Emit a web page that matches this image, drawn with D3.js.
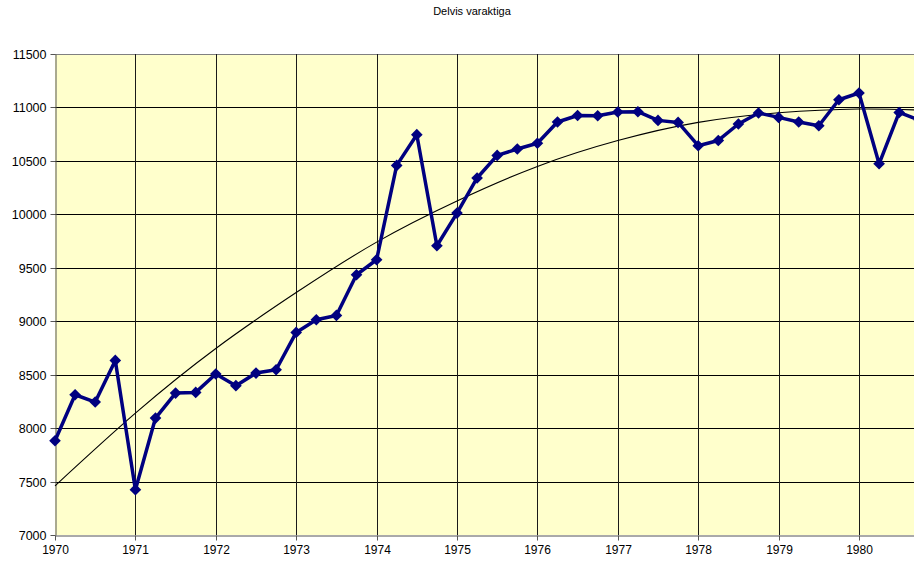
<!DOCTYPE html>
<html>
<head>
<meta charset="utf-8">
<script src="https://cdn.jsdelivr.net/npm/d3@7"></script>
<style>
  body { margin: 0; background: #fff; }
  svg { display: block; }
</style>
</head>
<body>
<div id="chart"></div>
<script>
"use strict";

// Quarterly series, 1970 Q1 .. 1980 Q4
const quarters = d3.range(44).map(i => 1970 + i / 4);
const values = [
  7882, 8312, 8244, 8633,
  7424, 8094, 8328, 8334,
  8506, 8397, 8515, 8546,
  8895, 9014, 9054, 9435,
  9575, 10458, 10745, 9706,
  10012, 10340, 10551, 10611,
  10665, 10864, 10925, 10922,
  10957, 10960, 10879, 10860,
  10642, 10691, 10845, 10948,
  10907, 10864, 10829, 11072,
  11135, 10473, 10953, 10880
];

// Trend line
const trendYears = [1970, 1971, 1972, 1973, 1974, 1975, 1976, 1977, 1978, 1979, 1980, 1980.75];
const trendValues = [7460, 8140, 8745, 9268, 9740, 10125, 10448, 10690, 10860, 10950, 10985, 10975];

const yTicks = [7000, 7500, 8000, 8500, 9000, 9500, 10000, 10500, 11000, 11500];
const xTicks = [1970, 1971, 1972, 1973, 1974, 1975, 1976, 1977, 1978, 1979, 1980];

const title = "Delvis varaktiga";

function create(container) {
  container.innerHTML = "";

  const width = 914, height = 563;
  const left = 55, top = 54, bottom = 535;
  const right = left + 11 * 80.4;

  let svg = d3.select(container).append("svg")
    .attr("width", width)
    .attr("height", height);

  let x = d3.scaleLinear().domain([1970, 1981]).range([left, right]);
  let y = d3.scaleLinear().domain([7000, 11500]).range([bottom, top]);
  const crisp = v => Math.round(v) + 0.5;

  // Title
  svg.append("text")
    .attr("x", 472)
    .attr("y", 15)
    .attr("text-anchor", "middle")
    .attr("font-family", "Liberation Sans, Arial, sans-serif")
    .attr("font-size", "11px")
    .attr("fill", "#000")
    .text(title);

  // Plot background
  svg.append("rect")
    .attr("x", left)
    .attr("y", top)
    .attr("width", right - left)
    .attr("height", bottom - top)
    .attr("fill", "#ffffcc");

  // Horizontal grid
  svg.append("g")
    .selectAll("line")
    .data(yTicks.slice(1))
    .join("line")
    .attr("x1", left)
    .attr("x2", right)
    .attr("y1", d => crisp(y(d)))
    .attr("y2", d => crisp(y(d)))
    .attr("stroke", d => d === 11500 ? "#808080" : "#000")
    .attr("stroke-width", 1);

  // Vertical grid
  svg.append("g")
    .selectAll("line")
    .data(xTicks.slice(1))
    .join("line")
    .attr("x1", d => crisp(x(d)))
    .attr("x2", d => crisp(x(d)))
    .attr("y1", top)
    .attr("y2", bottom)
    .attr("stroke", "#1a1a1a")
    .attr("stroke-width", 1);

  // Y axis
  let yAxis = svg.append("g")
    .attr("transform", "translate(" + crisp(left) + ",0)")
    .call(d3.axisLeft(y).tickValues(yTicks).tickFormat(d3.format("d"))
      .tickSize(5).tickPadding(4).tickSizeOuter(0));
  yAxis.select(".domain").attr("stroke", "#555");
  yAxis.selectAll(".tick line").attr("stroke", "#555");
  yAxis.selectAll(".tick").attr("transform", d => "translate(0," + crisp(y(d)) + ")");
  yAxis.selectAll("text")
    .attr("font-family", "Liberation Sans, Arial, sans-serif")
    .attr("font-size", "12.5px")
    .attr("fill", "#000");

  // X axis
  let xAxis = svg.append("g")
    .attr("transform", "translate(0," + crisp(bottom) + ")")
    .call(d3.axisBottom(x).tickValues(xTicks).tickFormat(d3.format("d"))
      .tickSize(5).tickPadding(5).tickSizeOuter(0));
  xAxis.select(".domain").attr("stroke", "#555");
  xAxis.selectAll(".tick line").attr("stroke", "#555");
  xAxis.selectAll(".tick").attr("transform", d => "translate(" + crisp(x(d)) + ",0)");
  xAxis.selectAll("text")
    .attr("font-family", "Liberation Sans, Arial, sans-serif")
    .attr("font-size", "12px")
    .attr("fill", "#000");

  // Trend line
  let trendLine = d3.line()
    .x((d, i) => x(trendYears[i]))
    .y(d => y(d))
    .curve(d3.curveNatural);

  svg.append("path")
    .attr("d", trendLine(trendValues))
    .attr("fill", "none")
    .attr("stroke", "#000")
    .attr("stroke-width", 1.1);

  // Data line
  let dataLine = d3.line()
    .x((d, i) => x(quarters[i]))
    .y(d => y(d));

  svg.append("path")
    .attr("d", dataLine(values))
    .attr("fill", "none")
    .attr("stroke", "#000080")
    .attr("stroke-width", 3.5)
    .attr("stroke-linejoin", "round");

  // Diamond markers
  let marker = d3.symbol().type(d3.symbolSquare).size(68);
  svg.append("g")
    .selectAll("path")
    .data(values)
    .join("path")
    .attr("d", marker)
    .attr("transform", (d, i) => "translate(" + x(quarters[i]) + "," + y(d) + ") rotate(45)")
    .attr("fill", "#000080");
}

create(document.getElementById("chart"));
</script>
</body>
</html>
